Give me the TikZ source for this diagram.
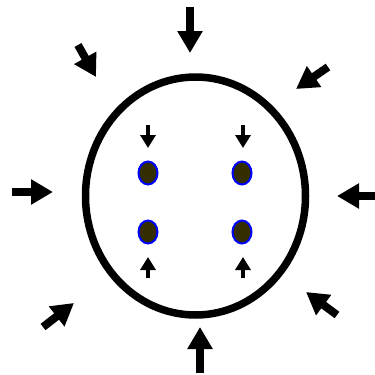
\documentclass[tikz,border=0pt]{standalone}
\usetikzlibrary{arrows.meta}
\definecolor{nucleus}{RGB}{51,45,0}
\tikzset{
  bigarrow/.style={line width=8pt, -{Triangle[width=24pt,length=22pt]}},
  smallarrow/.style={line width=4pt, -{Triangle[width=15pt,length=13pt]}},
  dot/.style={draw=blue, line width=2pt, fill=nucleus},
}
\begin{document}
\begin{tikzpicture}[x=1pt,y=-1pt]
  \useasboundingbox (0,0) rectangle (375,375);
  \def\outside{190/7/190/53, 200/373/200/327, 12/192/53/192, 375/196/337/196, 78/45/96/77, 328/67/296/89, 43/327/74/303, 337/315/306/292} % (format: from x/y/to x/y)
  \def\nuclei{148/173, 242/173, 148/232, 242/232}

  % the cell
  \draw[line width=7.5pt] (195.5,196) ellipse [x radius=110pt, y radius=119pt];
  \foreach \a/\b/\c/\d in \outside {
    \draw[bigarrow] (\a,\b) -- (\c,\d); }
  \foreach \x/\y in \nuclei {
    \draw[dot] (\x,\y) ellipse [x radius=9.5pt, y radius=11.5pt]; }
  % pushing the dots together
  \foreach \x in {148,243} {
    \draw[smallarrow] (\x,125) -- (\x,148);
    \draw[smallarrow] (\x,278) -- (\x,257);
  }
\end{tikzpicture}
\end{document}
